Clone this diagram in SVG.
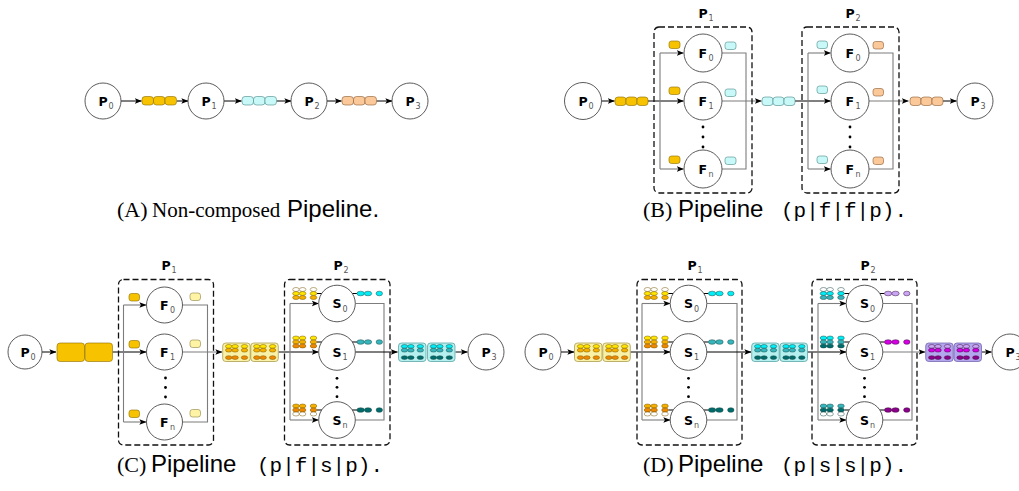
<svg xmlns="http://www.w3.org/2000/svg" width="1019" height="491" viewBox="0 0 1019 491">
<style>
.nd{fill:#fff;stroke:#4a4a4a;stroke-width:0.9}
.lb{font-family:"DejaVu Sans",sans-serif;font-weight:bold;font-size:12.5px;fill:#000}
.sb{font-family:"DejaVu Sans",sans-serif;font-size:8px;fill:#555}
.ln{stroke:#000;stroke-width:1;fill:none}
.gl{stroke:#7d7d7d;stroke-width:1.1;fill:none}
.bx{fill:none;stroke:#111;stroke-width:1.3;stroke-dasharray:6 3}
.dot{fill:#000}
.tk{stroke-width:0.6}
.ty{fill:#f7c300;stroke:#8a6a00}
.tc{fill:#c9f8f8;stroke:#4a8888}
.to{fill:#fbc89a;stroke:#8a5a30}
.tl{fill:#fff4a6;stroke:#8a8040}
.ey{stroke:#7a5600;stroke-width:0.5}
.ec{stroke:#1e4a4a;stroke-width:0.5}
.ep{stroke:#3a103a;stroke-width:0.5}
.ser{font-family:"Liberation Serif",serif;font-size:22px;fill:#000}
.ser2{font-family:"Liberation Serif",serif;font-size:21px;fill:#000}
.san{font-family:"Liberation Sans",sans-serif;font-size:24px;fill:#000}
.mon{font-family:"Liberation Mono",monospace;font-size:21px;fill:#000}
</style>
<defs>
<marker id="a" viewBox="0 0 8 8" refX="7.6" refY="4" markerWidth="7" markerHeight="7" markerUnits="userSpaceOnUse" orient="auto">
<path d="M0,0.8 L8,4 L0,7.2 L1.8,4 Z" fill="#000"/>
</marker>
<g id="row"><ellipse cx="-41" cy="0" rx="3.3" ry="2"/><ellipse cx="-34.4" cy="0" rx="3.3" ry="2"/><ellipse cx="-23.5" cy="0" rx="3.3" ry="2"/></g>
<g id="crow"><ellipse cx="6" cy="0" rx="3.2" ry="1.9"/><ellipse cx="12.4" cy="0" rx="3.2" ry="1.9"/><ellipse cx="21.8" cy="0" rx="3.2" ry="1.9"/></g>
<g id="out"><path d="M15,-10 H20" stroke="#000" stroke-width="1"/><ellipse cx="23.6" cy="-10" rx="3.7" ry="2.3"/><ellipse cx="31" cy="-10" rx="3.7" ry="2.3"/><ellipse cx="42.3" cy="-10" rx="3.2" ry="2.3"/></g>
<g id="stk-y0" class="ey"><use href="#row" y="-14" fill="#fff"/><use href="#row" y="-10" fill="#ffe600"/><use href="#row" y="-6" fill="#f5b000"/><path d="M-20,-10 H-15" stroke="#000" stroke-width="1"/></g>
<g id="stk-y1" class="ey"><use href="#row" y="-14" fill="#ffe600"/><use href="#row" y="-10" fill="#f5b000"/><use href="#row" y="-6" fill="#ee8800"/><path d="M-20,-10 H-15" stroke="#000" stroke-width="1"/></g>
<g id="stk-yn" class="ey"><use href="#row" y="-14" fill="#f5b000"/><use href="#row" y="-10" fill="#ee8800"/><use href="#row" y="-6" fill="#fff"/><path d="M-20,-10 H-15" stroke="#000" stroke-width="1"/></g>
<g id="stk-c0" class="ec"><use href="#row" y="-14" fill="#fff"/><use href="#row" y="-10" fill="#00eef5"/><use href="#row" y="-6" fill="#36b6bc"/><path d="M-20,-10 H-15" stroke="#000" stroke-width="1"/></g>
<g id="stk-c1" class="ec"><use href="#row" y="-14" fill="#00eef5"/><use href="#row" y="-10" fill="#36b6bc"/><use href="#row" y="-6" fill="#006b6b"/><path d="M-20,-10 H-15" stroke="#000" stroke-width="1"/></g>
<g id="stk-cn" class="ec"><use href="#row" y="-14" fill="#36b6bc"/><use href="#row" y="-10" fill="#006b6b"/><use href="#row" y="-6" fill="#fff"/><path d="M-20,-10 H-15" stroke="#000" stroke-width="1"/></g>
<g id="cmp-y"><rect x="0" y="0" width="27.5" height="18.5" rx="3" fill="#f9f1a5" stroke="#a09040" stroke-width="0.7"/><g class="ey"><use href="#crow" y="3.4" fill="#ffe600"/><use href="#crow" y="7.2" fill="#f5b000"/><use href="#crow" y="14.6" fill="#ee8800"/></g></g>
<g id="cmp-c"><rect x="0" y="0" width="27.5" height="18.5" rx="3" fill="#b5f0f0" stroke="#4a9a9a" stroke-width="0.7"/><g class="ec"><use href="#crow" y="3.4" fill="#00eef5"/><use href="#crow" y="7.2" fill="#36b6bc"/><use href="#crow" y="14.6" fill="#006b6b"/></g></g>
<g id="cmp-p"><rect x="0" y="0" width="27.5" height="18.5" rx="3" fill="#b3a6ee" stroke="#6a5aa8" stroke-width="0.7"/><g class="ep"><use href="#crow" y="3.4" fill="#c9a6f5"/><use href="#crow" y="7.2" fill="#d600e6"/><use href="#crow" y="14.6" fill="#8c008c"/></g></g>
</defs>
<rect width="1019" height="491" fill="#fff"/>

<!-- ===== Panel A ===== -->
<g id="A-connectors">
<path class="ln" d="M121,101 H141.5" marker-end="url(#a)"/>
<path class="ln" d="M177,101 H188" marker-end="url(#a)"/>
<path class="ln" d="M224,101 H241.5" marker-end="url(#a)"/>
<path class="ln" d="M276.5,101 H291" marker-end="url(#a)"/>
<path class="ln" d="M327,101 H341.5" marker-end="url(#a)"/>
<path class="ln" d="M376.5,101 H392" marker-end="url(#a)"/>
<g class="tk ty"><rect x="142" y="96.5" width="11.5" height="8.5" rx="3"/><rect x="153.5" y="96.5" width="11.5" height="8.5" rx="3"/><rect x="165" y="96.5" width="11.5" height="8.5" rx="3"/></g>
<g class="tk tc"><rect x="242" y="96.5" width="11.5" height="8.5" rx="3"/><rect x="253.5" y="96.5" width="11.5" height="8.5" rx="3"/><rect x="265" y="96.5" width="11.5" height="8.5" rx="3"/></g>
<g class="tk to"><rect x="342" y="96.5" width="11.5" height="8.5" rx="3"/><rect x="353.5" y="96.5" width="11.5" height="8.5" rx="3"/><rect x="365" y="96.5" width="11.5" height="8.5" rx="3"/></g>
</g>
<g id="A-P0"><circle class="nd" cx="103" cy="101" r="18"/><text class="lb" x="98.5" y="105.5">P</text><text class="sb" x="108.5" y="109">0</text></g>
<g id="A-P1"><circle class="nd" cx="206" cy="101" r="18"/><text class="lb" x="201.5" y="105.5">P</text><text class="sb" x="211.5" y="109">1</text></g>
<g id="A-P2"><circle class="nd" cx="309" cy="101" r="18"/><text class="lb" x="304.5" y="105.5">P</text><text class="sb" x="314.5" y="109">2</text></g>
<g id="A-P3"><circle class="nd" cx="410" cy="101" r="18"/><text class="lb" x="405.5" y="105.5">P</text><text class="sb" x="415.5" y="109">3</text></g>

<!-- ===== Panel B ===== -->
<g id="B-connectors">
<path class="ln" d="M601.5,101 H614.5" marker-end="url(#a)"/>
<path class="ln" d="M648,101 H683.5" marker-end="url(#a)"/>
<path class="gl" d="M660,53 V169"/>
<path class="gl" d="M660,53 H683.5" marker-end="url(#a)"/>
<path class="gl" d="M660,169 H683.5" marker-end="url(#a)"/>
<path class="gl" d="M722,53 H746 V169 H722"/>
<path class="gl" d="M722,101 H761.5" marker-end="url(#a)"/>
<path class="ln" d="M795,101 H830.5" marker-end="url(#a)"/>
<path class="gl" d="M808,53 V169"/>
<path class="gl" d="M808,53 H830.5" marker-end="url(#a)"/>
<path class="gl" d="M808,169 H830.5" marker-end="url(#a)"/>
<path class="gl" d="M869,53 H893 V169 H869"/>
<path class="gl" d="M869,101 H908.5" marker-end="url(#a)"/>
<path class="ln" d="M943,101 H956.5" marker-end="url(#a)"/>
<g class="tk ty"><rect x="615" y="97" width="11" height="8.5" rx="3"/><rect x="626" y="97" width="11" height="8.5" rx="3"/><rect x="637" y="97" width="11" height="8.5" rx="3"/></g>
<g class="tk tc"><rect x="762" y="97" width="11" height="8.5" rx="3"/><rect x="773" y="97" width="11" height="8.5" rx="3"/><rect x="784" y="97" width="11" height="8.5" rx="3"/></g>
<g class="tk to"><rect x="910" y="97" width="11" height="8.5" rx="3"/><rect x="921" y="97" width="11" height="8.5" rx="3"/><rect x="932" y="97" width="11" height="8.5" rx="3"/></g>
</g>
<g id="B-P0"><circle class="nd" cx="583" cy="101" r="18.5"/><text class="lb" x="578.5" y="105.5">P</text><text class="sb" x="588.5" y="109">0</text></g>
<g id="B-P1">
<rect class="bx" x="654" y="27" width="98" height="166" rx="5"/>
<text class="lb" x="698.5" y="18">P</text><text class="sb" x="708.5" y="21">1</text>
<g class="tk ty"><rect x="669" y="41" width="11" height="7.5" rx="2.5"/><rect x="669" y="87" width="11" height="7.5" rx="2.5"/><rect x="669" y="156" width="11" height="7.5" rx="2.5"/></g>
<g class="tk tc"><rect x="725" y="42" width="11" height="7.5" rx="2.5"/><rect x="725" y="89" width="11" height="7.5" rx="2.5"/><rect x="725" y="157" width="11" height="7.5" rx="2.5"/></g>
<circle class="dot" cx="703" cy="127" r="1.4"/><circle class="dot" cx="703" cy="137" r="1.4"/><circle class="dot" cx="703" cy="147" r="1.4"/>
</g>
<g id="B-F0a"><circle class="nd" cx="703" cy="53" r="19"/><text class="lb" x="698.5" y="57.5">F</text><text class="sb" x="708.5" y="61">0</text></g>
<g id="B-F1a"><circle class="nd" cx="703" cy="101" r="19"/><text class="lb" x="698.5" y="105.5">F</text><text class="sb" x="708.5" y="109">1</text></g>
<g id="B-Fna"><circle class="nd" cx="703" cy="169" r="19"/><text class="lb" x="698.5" y="173.5">F</text><text class="sb" x="708.5" y="177">n</text></g>
<g id="B-P2">
<rect class="bx" x="802" y="27" width="97" height="166" rx="5"/>
<text class="lb" x="845.5" y="18">P</text><text class="sb" x="855.5" y="21">2</text>
<g class="tk tc"><rect x="817" y="41" width="10.5" height="7.5" rx="2.5"/><rect x="817" y="86" width="10.5" height="7.5" rx="2.5"/><rect x="817" y="156" width="10.5" height="7.5" rx="2.5"/></g>
<g class="tk to"><rect x="873" y="41.5" width="10.5" height="7.5" rx="2.5"/><rect x="873" y="88.5" width="10.5" height="7.5" rx="2.5"/><rect x="873" y="157" width="10.5" height="7.5" rx="2.5"/></g>
<circle class="dot" cx="850" cy="127" r="1.4"/><circle class="dot" cx="850" cy="137" r="1.4"/><circle class="dot" cx="850" cy="147" r="1.4"/>
</g>
<g id="B-F0b"><circle class="nd" cx="850" cy="53" r="19"/><text class="lb" x="845.5" y="57.5">F</text><text class="sb" x="855.5" y="61">0</text></g>
<g id="B-F1b"><circle class="nd" cx="850" cy="101" r="19"/><text class="lb" x="845.5" y="105.5">F</text><text class="sb" x="855.5" y="109">1</text></g>
<g id="B-Fnb"><circle class="nd" cx="850" cy="169" r="19"/><text class="lb" x="845.5" y="173.5">F</text><text class="sb" x="855.5" y="177">n</text></g>
<g id="B-P3"><circle class="nd" cx="975" cy="101" r="18"/><text class="lb" x="970.5" y="105.5">P</text><text class="sb" x="980.5" y="109">3</text></g>

<!-- ===== Panel C ===== -->
<g id="C-connectors">
<path class="ln" d="M42,352 H56" marker-end="url(#a)"/>
<path class="ln" d="M112.5,352 H146" marker-end="url(#a)"/>
<path class="gl" d="M123.5,305 V422"/>
<path class="gl" d="M123.5,305 H146" marker-end="url(#a)"/>
<path class="gl" d="M123.5,422 H146" marker-end="url(#a)"/>
<path class="gl" d="M182.5,305 H207.5 V422 H182.5"/>
<path class="gl" d="M182.5,352 H222" marker-end="url(#a)"/>
<path class="ln" d="M278.5,352 H318.5" marker-end="url(#a)"/>
<path class="gl" d="M290,303.5 V420"/>
<path class="gl" d="M290,303.5 H318.5" marker-end="url(#a)"/>
<path class="gl" d="M290,420 H318.5" marker-end="url(#a)"/>
<path class="gl" d="M355.3,303.5 H384 V420 H355.3"/>
<path class="ln" d="M355.3,352 H397.5" marker-end="url(#a)"/>
<path class="ln" d="M455.5,352 H467.5" marker-end="url(#a)"/>
<g class="tk ty"><rect x="57" y="343" width="27.5" height="18.5" rx="3"/><rect x="85" y="343" width="27.5" height="18.5" rx="3"/></g>
<use href="#cmp-y" x="222.7" y="343"/><use href="#cmp-y" x="250.8" y="343"/>
<use href="#cmp-c" x="398.5" y="343"/><use href="#cmp-c" x="427.5" y="343"/>
</g>
<g id="C-P0"><circle class="nd" cx="25" cy="352" r="17"/><text class="lb" x="20.5" y="356.5">P</text><text class="sb" x="30.5" y="360">0</text></g>
<g id="C-P1">
<rect class="bx" x="118.5" y="279.5" width="95" height="165.5" rx="5"/>
<text class="lb" x="161.5" y="269.5">P</text><text class="sb" x="171.5" y="272.5">1</text>
<g class="tk ty"><rect x="129" y="293.5" width="10.5" height="7.5" rx="2.5"/><rect x="129" y="340.5" width="10.5" height="7.5" rx="2.5"/><rect x="129" y="410" width="10.5" height="7.5" rx="2.5"/></g>
<g class="tk tl"><rect x="190" y="293" width="10.5" height="7.5" rx="2.5"/><rect x="190" y="340" width="10.5" height="7.5" rx="2.5"/><rect x="190" y="409.5" width="10.5" height="7.5" rx="2.5"/></g>
<circle class="dot" cx="165.5" cy="378" r="1.4"/><circle class="dot" cx="165.5" cy="387.5" r="1.4"/><circle class="dot" cx="165.5" cy="397" r="1.4"/>
</g>
<g id="C-F0"><circle class="nd" cx="164.5" cy="305" r="18"/><text class="lb" x="160" y="309.5">F</text><text class="sb" x="170" y="313">0</text></g>
<g id="C-F1"><circle class="nd" cx="164.5" cy="352" r="18"/><text class="lb" x="160" y="356.5">F</text><text class="sb" x="170" y="360">1</text></g>
<g id="C-Fn"><circle class="nd" cx="164.5" cy="422" r="18"/><text class="lb" x="160" y="426.5">F</text><text class="sb" x="170" y="430">n</text></g>
<g id="C-P2">
<rect class="bx" x="284.5" y="279.5" width="105.5" height="165.5" rx="5"/>
<text class="lb" x="333.5" y="269.5">P</text><text class="sb" x="343.5" y="272.5">2</text>
<circle class="dot" cx="337" cy="378.3" r="1.4"/><circle class="dot" cx="337" cy="387.3" r="1.4"/><circle class="dot" cx="337" cy="396.7" r="1.4"/>
</g>
<g id="C-S0"><use href="#stk-y0" x="337" y="303.5"/><use href="#out" x="337" y="303.5" fill="#00eef5" class="ec"/><circle class="nd" cx="337" cy="303.5" r="18.3"/><text class="lb" x="332.5" y="308">S</text><text class="sb" x="342.5" y="311.5">0</text></g>
<g id="C-S1"><use href="#stk-y1" x="337" y="352"/><use href="#out" x="337" y="352" fill="#36b6bc" class="ec"/><circle class="nd" cx="337" cy="352" r="18.3"/><text class="lb" x="332.5" y="356.5">S</text><text class="sb" x="342.5" y="360">1</text></g>
<g id="C-Sn"><use href="#stk-yn" x="337" y="420"/><use href="#out" x="337" y="420" fill="#006b6b" class="ec"/><circle class="nd" cx="337" cy="420" r="18.3"/><text class="lb" x="332.5" y="424.5">S</text><text class="sb" x="342.5" y="428">n</text></g>
<g id="C-P3"><circle class="nd" cx="486" cy="352" r="18"/><text class="lb" x="481.5" y="356.5">P</text><text class="sb" x="491.5" y="360">3</text></g>

<!-- ===== Panel D ===== -->
<g id="D-connectors">
<path class="ln" d="M561,352 H574" marker-end="url(#a)"/>
<path class="ln" d="M630.5,352 H670" marker-end="url(#a)"/>
<path class="gl" d="M642,303.5 V420"/>
<path class="gl" d="M642,303.5 H670" marker-end="url(#a)"/>
<path class="gl" d="M642,420 H670" marker-end="url(#a)"/>
<path class="gl" d="M706.8,303.5 H737 V420 H706.8"/>
<path class="ln" d="M706.8,352 H751" marker-end="url(#a)"/>
<path class="ln" d="M807.5,352 H846" marker-end="url(#a)"/>
<path class="gl" d="M818,303.5 V420"/>
<path class="gl" d="M818,303.5 H846" marker-end="url(#a)"/>
<path class="gl" d="M818,420 H846" marker-end="url(#a)"/>
<path class="gl" d="M882.8,303.5 H912 V420 H882.8"/>
<path class="gl" d="M882.8,352 H925.2" marker-end="url(#a)"/>
<path class="ln" d="M982,352 H991.5" marker-end="url(#a)"/>
<use href="#cmp-y" x="574.5" y="343"/><use href="#cmp-y" x="602.8" y="343"/>
<use href="#cmp-c" x="751.7" y="343"/><use href="#cmp-c" x="780" y="343"/>
<use href="#cmp-p" x="925.7" y="343"/><use href="#cmp-p" x="954" y="343"/>
</g>
<g id="D-P0"><circle class="nd" cx="543" cy="352" r="18"/><text class="lb" x="538.5" y="356.5">P</text><text class="sb" x="548.5" y="360">0</text></g>
<g id="D-P1">
<rect class="bx" x="637" y="279.5" width="105" height="165.5" rx="5"/>
<text class="lb" x="687.5" y="269.5">P</text><text class="sb" x="697.5" y="272.5">1</text>
<circle class="dot" cx="688.5" cy="378.3" r="1.4"/><circle class="dot" cx="688.5" cy="387.3" r="1.4"/><circle class="dot" cx="688.5" cy="396.7" r="1.4"/>
</g>
<g id="D-S0a"><use href="#stk-y0" x="688.5" y="303.5"/><use href="#out" x="688.5" y="303.5" fill="#00eef5" class="ec"/><circle class="nd" cx="688.5" cy="303.5" r="18.3"/><text class="lb" x="684" y="308">S</text><text class="sb" x="694" y="311.5">0</text></g>
<g id="D-S1a"><use href="#stk-y1" x="688.5" y="352"/><use href="#out" x="688.5" y="352" fill="#36b6bc" class="ec"/><circle class="nd" cx="688.5" cy="352" r="18.3"/><text class="lb" x="684" y="356.5">S</text><text class="sb" x="694" y="360">1</text></g>
<g id="D-Sna"><use href="#stk-yn" x="688.5" y="420"/><use href="#out" x="688.5" y="420" fill="#006b6b" class="ec"/><circle class="nd" cx="688.5" cy="420" r="18.3"/><text class="lb" x="684" y="424.5">S</text><text class="sb" x="694" y="428">n</text></g>
<g id="D-P2">
<rect class="bx" x="812" y="279.5" width="105" height="165.5" rx="5"/>
<text class="lb" x="860.5" y="269.5">P</text><text class="sb" x="870.5" y="272.5">2</text>
<circle class="dot" cx="864.5" cy="378.3" r="1.4"/><circle class="dot" cx="864.5" cy="387.3" r="1.4"/><circle class="dot" cx="864.5" cy="396.7" r="1.4"/>
</g>
<g id="D-S0b"><use href="#stk-c0" x="864.5" y="303.5"/><use href="#out" x="864.5" y="303.5" fill="#c9a6f5" class="ep"/><circle class="nd" cx="864.5" cy="303.5" r="18.3"/><text class="lb" x="860" y="308">S</text><text class="sb" x="870" y="311.5">0</text></g>
<g id="D-S1b"><use href="#stk-c1" x="864.5" y="352"/><use href="#out" x="864.5" y="352" fill="#d600e6" class="ep"/><circle class="nd" cx="864.5" cy="352" r="18.3"/><text class="lb" x="860" y="356.5">S</text><text class="sb" x="870" y="360">1</text></g>
<g id="D-Snb"><use href="#stk-cn" x="864.5" y="420"/><use href="#out" x="864.5" y="420" fill="#8c008c" class="ep"/><circle class="nd" cx="864.5" cy="420" r="18.3"/><text class="lb" x="860" y="424.5">S</text><text class="sb" x="870" y="428">n</text></g>
<g id="D-P3"><circle class="nd" cx="1010" cy="352" r="18"/><text class="lb" x="1005.5" y="356.5">P</text><text class="sb" x="1015.5" y="360">3</text></g>

<!-- ===== Captions ===== -->
<g id="captions">
<text class="ser" x="117" y="217">(A)</text>
<text class="ser2" x="152" y="217">Non-composed</text>
<text class="san" x="287" y="217">Pipeline.</text>
<text class="ser" x="643" y="217">(B)</text>
<text class="san" x="678" y="217">Pipeline</text>
<text class="mon" x="781" y="217">(p|f|f|p).</text>
<text class="ser" x="117" y="472">(C)</text>
<text class="san" x="151" y="472">Pipeline</text>
<text class="mon" x="257" y="472">(p|f|s|p).</text>
<text class="ser" x="643" y="472">(D)</text>
<text class="san" x="678" y="472">Pipeline</text>
<text class="mon" x="781" y="472">(p|s|s|p).</text>
</g>
</svg>
